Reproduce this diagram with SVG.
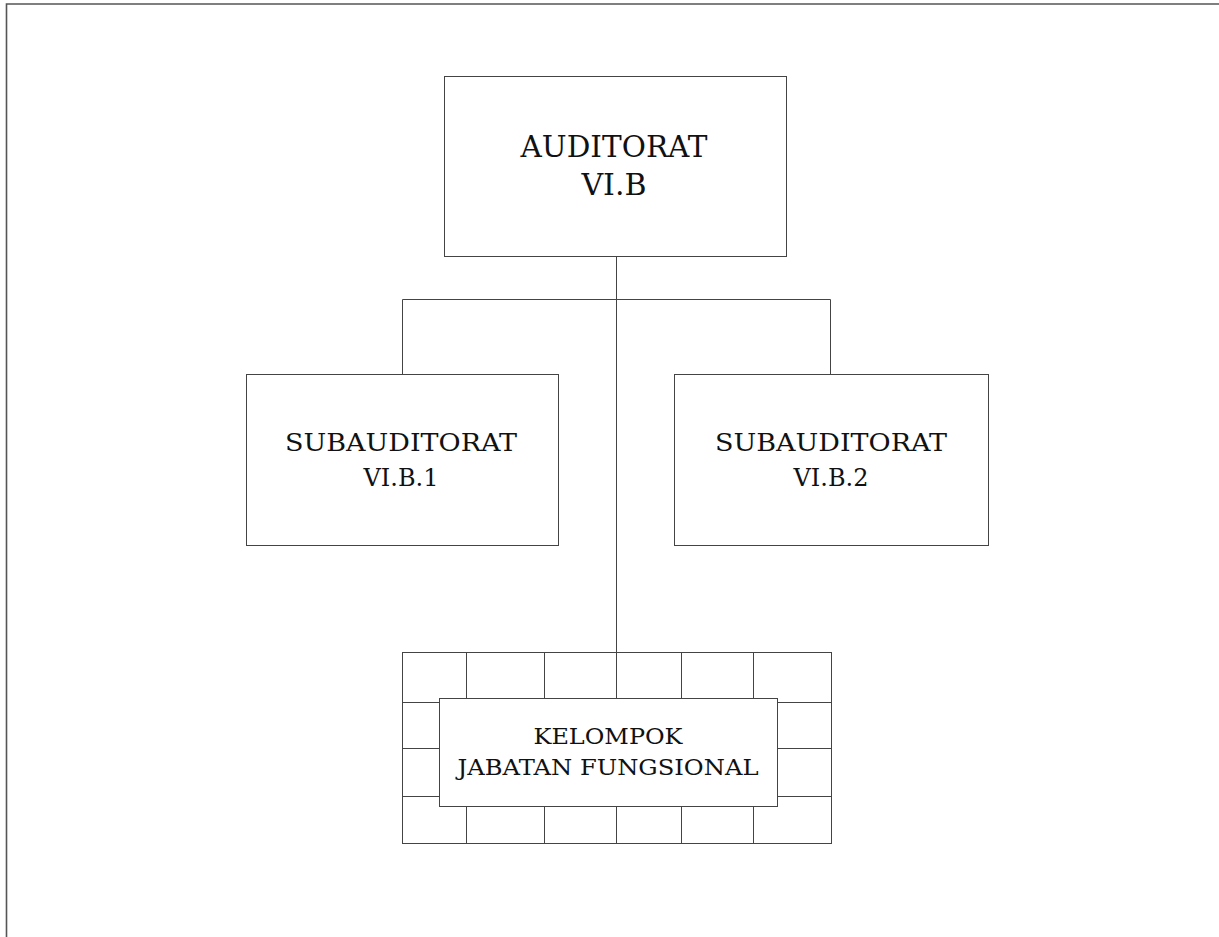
<svg xmlns="http://www.w3.org/2000/svg" width="1219" height="937" viewBox="0 0 1219 937">
<style>
.box{fill:#fff;stroke:#444;stroke-width:1}
.ln{fill:none;stroke:#444;stroke-width:1}
.t{font-family:"DejaVu Serif","Liberation Serif",serif;fill:#111;text-anchor:middle}
</style>
<rect width="1219" height="937" fill="#fff"/>
<path d="M6.5,937 V4 H1219" fill="none" stroke="#555" stroke-width="1.6"/>
<g id="connectors">
<path class="ln" d="M616.5,256 V652"/>
<path class="ln" d="M402.5,374 V299.5 H830.5 V374"/>
</g>
<g id="auditorat">
<rect class="box" x="444.5" y="76.5" width="342" height="180"/>
<text class="t" x="614" y="157" font-size="30" textLength="187" lengthAdjust="spacingAndGlyphs">AUDITORAT</text>
<text class="t" x="614" y="195" font-size="30">VI.B</text>
</g>
<g id="sub1">
<rect class="box" x="246.5" y="374.5" width="312" height="171"/>
<text class="t" x="401" y="451" font-size="24" textLength="232" lengthAdjust="spacingAndGlyphs">SUBAUDITORAT</text>
<text class="t" x="401" y="486" font-size="24">VI.B.1</text>
</g>
<g id="sub2">
<rect class="box" x="674.5" y="374.5" width="314" height="171"/>
<text class="t" x="831" y="451" font-size="24" textLength="232" lengthAdjust="spacingAndGlyphs">SUBAUDITORAT</text>
<text class="t" x="831" y="486" font-size="24">VI.B.2</text>
</g>
<g id="kelompok">
<rect class="box" x="402.5" y="652.5" width="429" height="191"/>
<path class="ln" d="M402.5,702.5 H831.5 M402.5,748.5 H831.5 M402.5,796.5 H831.5 M466.5,652.5 V843.5 M544.5,652.5 V843.5 M616.5,652.5 V843.5 M681.5,652.5 V843.5 M753.5,652.5 V843.5"/>
<rect class="box" x="439.5" y="698.5" width="338" height="108"/>
<text class="t" x="608" y="744" font-size="23" textLength="149" lengthAdjust="spacingAndGlyphs">KELOMPOK</text>
<text class="t" x="608" y="775" font-size="23" textLength="301" lengthAdjust="spacingAndGlyphs">JABATAN FUNGSIONAL</text>
</g>
</svg>
